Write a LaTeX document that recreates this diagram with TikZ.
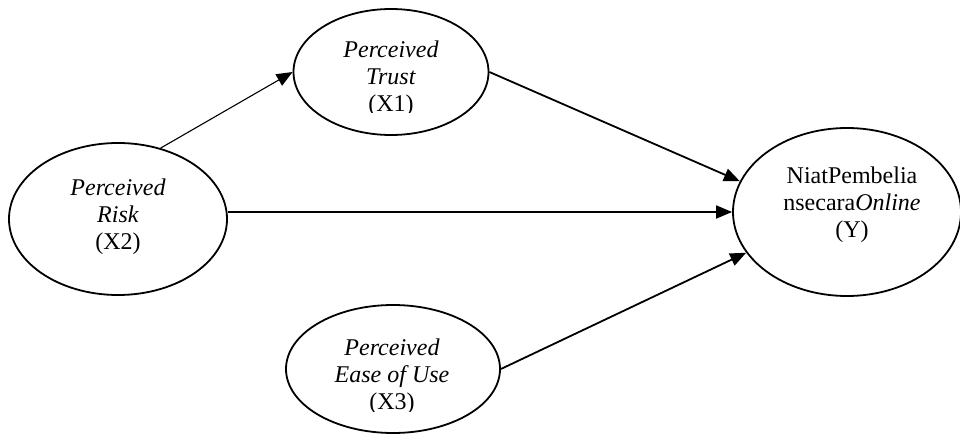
\documentclass[tikz,border=0pt]{standalone}
\usepackage{fontspec}
\setmainfont{Liberation Serif}
\usetikzlibrary{shapes.geometric,arrows.meta}
\begin{document}
\begin{tikzpicture}[x=1pt,y=-1pt,
  latent/.style={draw,ellipse,line width=1.8pt,inner sep=0pt},
  lbl/.style={align=center,inner sep=0pt,font=\fontsize{24}{27}\selectfont},
  arr/.style={line width=1.8pt,-{Triangle[length=16pt,width=13pt]}},
  thinarr/.style={line width=1.1pt,-{Triangle[length=16pt,width=13pt]}}]
\useasboundingbox (0,0) rectangle (960,436);
% ellipses
\node[latent,minimum width=195pt,minimum height=126pt] (trust) at (391,72) {};
\node[latent,minimum width=218pt,minimum height=152pt] (risk) at (118,219) {};
\node[latent,minimum width=214pt,minimum height=128pt] (ease) at (393,369) {};
\node[latent,minimum width=228pt,minimum height=168pt] (y) at (847,212) {};
% labels
\begin{scope}
  \clip (0,0) rectangle (960,112.5);
  \node[lbl] (trustlbl) at (391,79) {\textit{Perceived}\\\textit{Trust}\\(X1)};
\end{scope}
\node[lbl] (risklbl) at (118,216.5) {\textit{Perceived}\\\textit{Risk}\\(X2)};
\begin{scope}
  \clip (0,0) rectangle (960,411);
  \node[lbl] (easelbl) at (392,376.5) {\textit{Perceived}\\\textit{Ease of Use}\\(X3)};
\end{scope}
\node[lbl] (ylbl) at (852,205) {NiatPembelia\\nsecara\textit{Online}\\(Y)};
% connectors
\draw[thinarr] (risk.59) -- (trust.west);
\draw[arr] (trust.east) -- (y.164);
\draw[arr] (risk.east |- y.west) -- (y.west);
\draw[arr] (ease.east) -- (y.202);
\end{tikzpicture}
\end{document}
